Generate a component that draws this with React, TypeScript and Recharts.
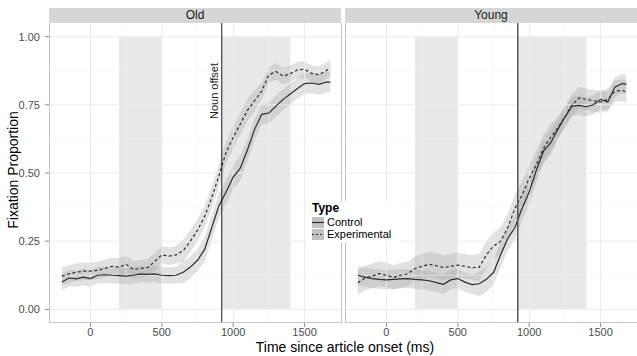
import React from "react";
import {
  ComposedChart,
  Area,
  Line,
  XAxis,
  YAxis,
  ReferenceArea,
  ReferenceLine,
} from "recharts";

const times = [
  -200, -150, -100, -50, 0, 50, 100, 150, 200, 250, 300, 350, 400, 450, 500, 550, 600,
  650, 700, 750, 800, 850, 900, 950, 1000, 1050, 1100, 1150, 1200, 1250, 1300, 1350,
  1400, 1450, 1500, 1550, 1600, 1650, 1680,
];

const oldControl = [
  0.1, 0.115, 0.112, 0.118, 0.113, 0.125, 0.127, 0.125, 0.124, 0.122, 0.125, 0.13, 0.128,
  0.13, 0.125, 0.124, 0.125, 0.136, 0.155, 0.18, 0.22, 0.3, 0.38, 0.43, 0.485, 0.518,
  0.585, 0.66, 0.715, 0.72, 0.745, 0.77, 0.79, 0.81, 0.828, 0.83, 0.825, 0.833, 0.833,
];
const oldExperimental = [
  0.122, 0.13, 0.136, 0.14, 0.14, 0.143, 0.15, 0.158, 0.155, 0.165, 0.146, 0.15, 0.153,
  0.175, 0.2, 0.195, 0.2, 0.215, 0.25, 0.29, 0.34, 0.41, 0.49, 0.575, 0.63, 0.68, 0.73,
  0.765, 0.8, 0.86, 0.872, 0.855, 0.864, 0.878, 0.88, 0.865, 0.86, 0.875, 0.885,
];
const youngControl = [
  0.125, 0.118, 0.113, 0.11, 0.108, 0.11, 0.112, 0.113, 0.11, 0.108, 0.105, 0.098, 0.092,
  0.108, 0.113, 0.1, 0.091, 0.094, 0.11, 0.135, 0.2, 0.26, 0.3, 0.37, 0.43, 0.51, 0.58,
  0.61, 0.66, 0.705, 0.745, 0.748, 0.743, 0.75, 0.77, 0.76, 0.815, 0.828, 0.825,
];
const youngExperimental = [
  0.098, 0.115, 0.122, 0.131, 0.125, 0.118, 0.125, 0.13, 0.15, 0.158, 0.165, 0.16, 0.153,
  0.158, 0.162, 0.158, 0.153, 0.154, 0.2, 0.232, 0.25, 0.3, 0.37, 0.42, 0.48, 0.53, 0.59,
  0.63, 0.665, 0.705, 0.75, 0.775, 0.77, 0.765, 0.76, 0.77, 0.8, 0.803, 0.797,
];

// half-widths of the confidence ribbons
const oldControlErr = [
  0.03, 0.03, 0.03, 0.03, 0.03, 0.03, 0.03, 0.03, 0.03, 0.03, 0.03, 0.03, 0.03, 0.03, 0.03,
  0.03, 0.03, 0.04, 0.04, 0.04, 0.045, 0.045, 0.045, 0.045, 0.045, 0.045, 0.04, 0.04,
  0.038, 0.038, 0.038, 0.038, 0.038, 0.038, 0.038, 0.038, 0.038, 0.038, 0.038,
];
const oldExperimentalErr = [
  0.032, 0.032, 0.032, 0.032, 0.032, 0.032, 0.032, 0.032, 0.032, 0.032, 0.032, 0.032,
  0.032, 0.032, 0.032, 0.032, 0.032, 0.04, 0.04, 0.04, 0.04, 0.04, 0.04, 0.04, 0.04, 0.04,
  0.04, 0.04, 0.03, 0.03, 0.03, 0.03, 0.03, 0.03, 0.03, 0.03, 0.03, 0.03, 0.03,
];
const youngControlErr = [
  0.035, 0.035, 0.035, 0.035, 0.035, 0.035, 0.035, 0.035, 0.035, 0.035, 0.035, 0.035,
  0.035, 0.035, 0.035, 0.035, 0.035, 0.045, 0.045, 0.045, 0.045, 0.045, 0.045, 0.045,
  0.045, 0.045, 0.045, 0.045, 0.035, 0.035, 0.035, 0.035, 0.035, 0.035, 0.035, 0.035,
  0.035, 0.035, 0.035,
];
const youngExperimentalErr = [
  0.045, 0.045, 0.045, 0.045, 0.045, 0.045, 0.045, 0.045, 0.045, 0.045, 0.045, 0.045,
  0.045, 0.045, 0.045, 0.045, 0.045, 0.05, 0.05, 0.05, 0.05, 0.05, 0.05, 0.05, 0.05, 0.05,
  0.05, 0.05, 0.04, 0.04, 0.04, 0.04, 0.04, 0.04, 0.04, 0.04, 0.04, 0.04, 0.04,
];

const xTicks = [0, 500, 1000, 1500];
const yTicks = [0, 0.25, 0.5, 0.75, 1];
const xMinor = [-250, 250, 750, 1250];
const yMinor = [0.125, 0.375, 0.625, 0.875];
const windows = [
  [200, 500],
  [920, 1400],
];
const nounOffset = 920;

const FONT = "'Liberation Sans', Arial, sans-serif";
const LINE = "#2b2b2b";

const buildData = (ctrl: number[], ctrlErr: number[], exp: number[], expErr: number[]) =>
  times.map((t, i) => ({
    t,
    control: ctrl[i],
    experimental: exp[i],
    controlRange: [ctrl[i] - ctrlErr[i], ctrl[i] + ctrlErr[i]],
    experimentalRange: [exp[i] - expErr[i], exp[i] + expErr[i]],
  }));

const oldData = buildData(oldControl, oldControlErr, oldExperimental, oldExperimentalErr);
const youngData = buildData(
  youngControl,
  youngControlErr,
  youngExperimental,
  youngExperimentalErr
);

interface PanelProps {
  data: ReturnType<typeof buildData>;
  left: number;
  width: number;
  marginLeft: number;
  marginRight: number;
  showY: boolean;
  title: string;
  showNounLabel: boolean;
  offsetColor: string;
  offsetWidth: number;
}

const NounLabel = (props: any) => {
  const x = props.viewBox ? props.viewBox.x - 4 : 0;
  return (
    <text
      x={x}
      y={91}
      transform={`rotate(-90, ${x}, 91)`}
      textAnchor="middle"
      fontSize={11}
      fontFamily={FONT}
      fill="#1a1a1a"
    >
      Noun offset
    </text>
  );
};

const Panel: React.FC<PanelProps> = ({
  data,
  left,
  width,
  marginLeft,
  marginRight,
  showY,
  title,
  showNounLabel,
  offsetColor,
  offsetWidth,
}) => {
  const plotLeft = left + marginLeft + (showY ? 49 : 0);
  const plotWidth = width - marginLeft - marginRight - (showY ? 49 : 0);
  return (
    <>
      <div
        style={{
          position: "absolute",
          left: plotLeft,
          top: 8,
          width: plotWidth,
          height: 15,
          background: "#d6d6d6",
          fontFamily: FONT,
          fontSize: 12,
          lineHeight: "15px",
          textAlign: "center",
          color: "#1a1a1a",
        }}
      >
        {title}
      </div>
      <div style={{ position: "absolute", left, top: 0 }}>
        <ComposedChart
          width={width}
          height={356}
          data={data}
          margin={{ top: 23, right: marginRight, bottom: 13, left: marginLeft }}
        >
          <XAxis
            dataKey="t"
            type="number"
            domain={[-290, 1755]}
            ticks={xTicks}
            allowDataOverflow
            axisLine={false}
            tickLine={{ stroke: "#8c8c8c" }}
            tickSize={4}
            tickMargin={1}
            height={20}
            tick={{ fontSize: 11, fill: "#4d4d4d", fontFamily: FONT }}
          />
          <YAxis
            type="number"
            domain={[-0.05, 1.05]}
            ticks={yTicks}
            allowDataOverflow
            hide={!showY}
            width={49}
            axisLine={false}
            tickLine={{ stroke: "#8c8c8c" }}
            tickSize={4}
            tickMargin={5}
            tickFormatter={(v: number) => v.toFixed(2)}
            tick={{ fontSize: 11, fill: "#4d4d4d", fontFamily: FONT }}
          />
          {xMinor.map((v) => (
            <ReferenceLine key={`xm${v}`} x={v} stroke="#f4f4f4" strokeWidth={0.6} />
          ))}
          {yMinor.map((v) => (
            <ReferenceLine key={`ym${v}`} y={v} stroke="#f4f4f4" strokeWidth={0.6} />
          ))}
          {xTicks.map((v) => (
            <ReferenceLine key={`x${v}`} x={v} stroke="#ebebeb" strokeWidth={1} />
          ))}
          {yTicks.map((v) => (
            <ReferenceLine key={`y${v}`} y={v} stroke="#ebebeb" strokeWidth={1} />
          ))}
          {windows.map(([a, b]) => (
            <ReferenceArea
              key={`w${a}`}
              x1={a}
              x2={b}
              y1={0}
              y2={1}
              fill="#d9d9d9"
              fillOpacity={0.6}
              stroke="none"
            />
          ))}
          <Area
            dataKey="controlRange"
            stroke="none"
            fill="#9a9a9a"
            fillOpacity={0.3}
            isAnimationActive={false}
          />
          <Area
            dataKey="experimentalRange"
            stroke="none"
            fill="#9a9a9a"
            fillOpacity={0.3}
            isAnimationActive={false}
          />
          <Line
            dataKey="control"
            type="linear"
            stroke={LINE}
            strokeWidth={1.2}
            dot={false}
            isAnimationActive={false}
          />
          <Line
            dataKey="experimental"
            type="linear"
            stroke={LINE}
            strokeWidth={1.2}
            strokeDasharray="3 2.5"
            dot={false}
            isAnimationActive={false}
          />
          <ReferenceLine
            x={nounOffset}
            stroke={offsetColor}
            strokeWidth={offsetWidth}
            label={showNounLabel ? <NounLabel /> : undefined}
          />
        </ComposedChart>
      </div>
      <div
        style={{
          position: "absolute",
          left: plotLeft,
          top: 23,
          width: plotWidth - 1,
          height: 299,
          border: "1px solid #c4c4c4",
          borderTop: "none",
          pointerEvents: "none",
        }}
      />
    </>
  );
};

const LegendKey: React.FC<{ dashed?: boolean }> = ({ dashed }) => (
  <svg width={12} height={11} style={{ display: "block" }}>
    <rect x={0} y={0} width={12} height={11} fill="#c2c2c2" />
    <line
      x1={0}
      x2={12}
      y1={5.5}
      y2={5.5}
      stroke={LINE}
      strokeWidth={1.2}
      strokeDasharray={dashed ? "2 2" : undefined}
    />
  </svg>
);

export default function App() {
  return (
    <div
      style={{
        position: "absolute",
        left: 0,
        top: 0,
        width: 637,
        height: 356,
        background: "#fff",
        overflow: "hidden",
      }}
    >
      <Panel
        data={oldData}
        left={0}
        width={342}
        marginLeft={0}
        marginRight={1}
        showY
        title="Old"
        showNounLabel
        offsetColor="#1a1a1a"
        offsetWidth={1}
      />
      <Panel
        data={youngData}
        left={340}
        width={297}
        marginLeft={5}
        marginRight={0}
        showY={false}
        title="Young"
        showNounLabel={false}
        offsetColor="#555"
        offsetWidth={1.5}
      />
      <svg
        width={637}
        height={356}
        style={{ position: "absolute", left: 0, top: 0, pointerEvents: "none" }}
      >
        <text
          x={345}
          y={352}
          textAnchor="middle"
          fontSize={14}
          fontFamily={FONT}
          fill="#000"
        >
          Time since article onset (ms)
        </text>
        <text
          x={18}
          y={170}
          transform="rotate(-90, 18, 170)"
          textAnchor="middle"
          fontSize={14}
          fontFamily={FONT}
          fill="#000"
        >
          Fixation Proportion
        </text>
      </svg>
      <div
        style={{
          position: "absolute",
          left: 307,
          top: 201,
          width: 93,
          height: 41,
          background: "#fff",
          fontFamily: FONT,
          color: "#000",
          paddingLeft: 5,
          boxSizing: "border-box",
        }}
      >
        <div style={{ fontWeight: "bold", fontSize: 12, lineHeight: "14px", height: 15 }}>
          Type
        </div>
        <div style={{ display: "flex", alignItems: "center", height: 12 }}>
          <LegendKey />
          <span style={{ marginLeft: 3, fontSize: 11, lineHeight: "12px" }}>Control</span>
        </div>
        <div style={{ display: "flex", alignItems: "center", height: 12 }}>
          <LegendKey dashed />
          <span style={{ marginLeft: 3, fontSize: 11, lineHeight: "12px" }}>Experimental</span>
        </div>
      </div>
    </div>
  );
}
